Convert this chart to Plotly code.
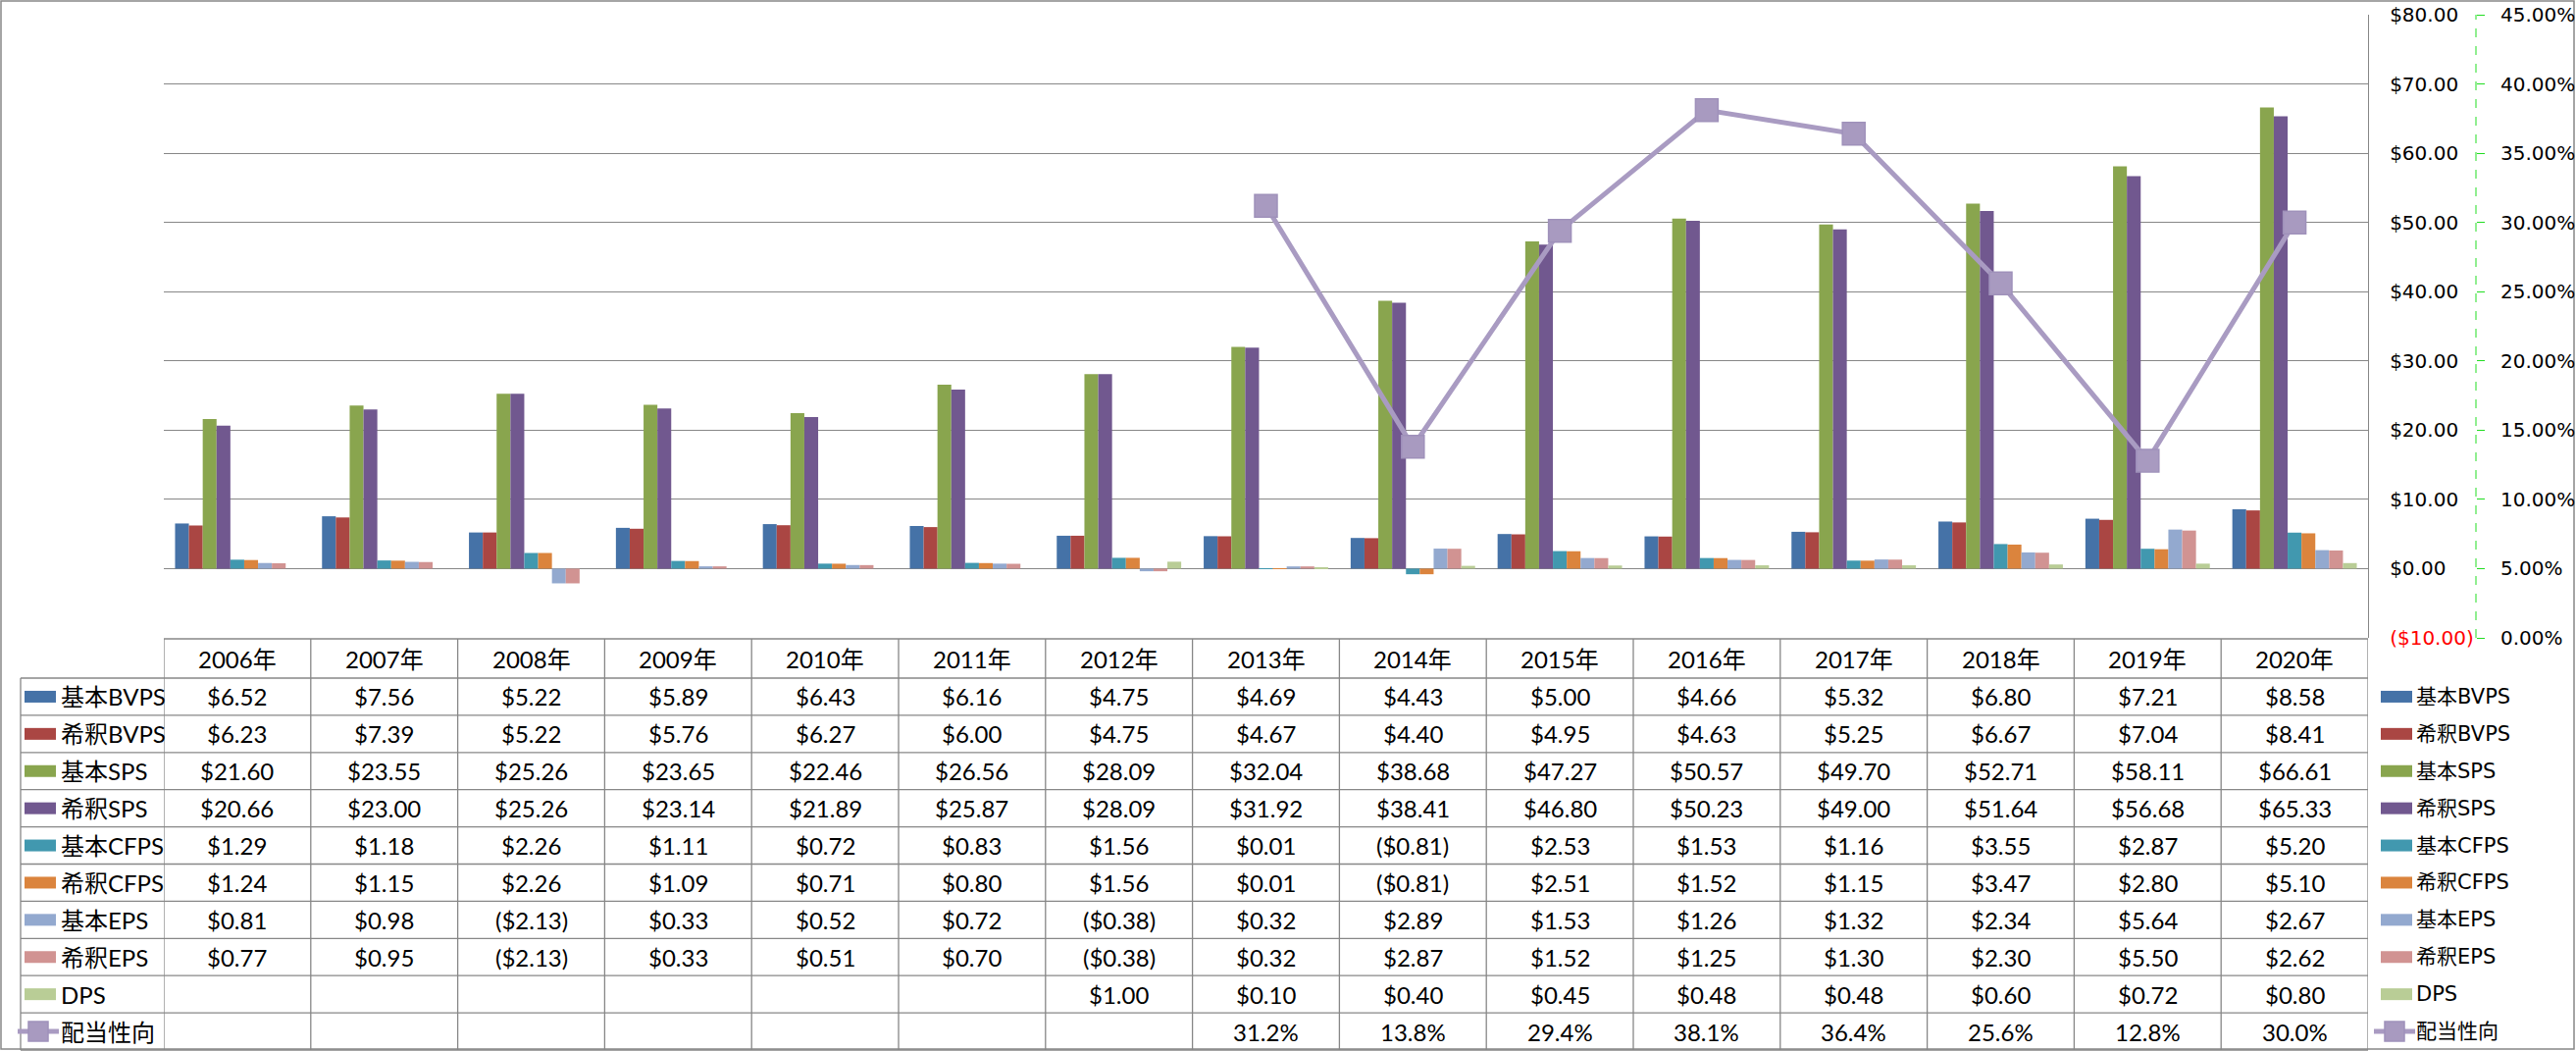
import plotly.graph_objects as go

years = ["2006年", "2007年", "2008年", "2009年", "2010年", "2011年", "2012年", "2013年",
         "2014年", "2015年", "2016年", "2017年", "2018年", "2019年", "2020年"]

basic_bvps = [6.52, 7.56, 5.22, 5.89, 6.43, 6.16, 4.75, 4.69, 4.43, 5.00, 4.66, 5.32, 6.80, 7.21, 8.58]
dil_bvps = [6.23, 7.39, 5.22, 5.76, 6.27, 6.00, 4.75, 4.67, 4.40, 4.95, 4.63, 5.25, 6.67, 7.04, 8.41]
basic_sps = [21.60, 23.55, 25.26, 23.65, 22.46, 26.56, 28.09, 32.04, 38.68, 47.27, 50.57, 49.70, 52.71, 58.11, 66.61]
dil_sps = [20.66, 23.00, 25.26, 23.14, 21.89, 25.87, 28.09, 31.92, 38.41, 46.80, 50.23, 49.00, 51.64, 56.68, 65.33]
basic_cfps = [1.29, 1.18, 2.26, 1.11, 0.72, 0.83, 1.56, 0.01, -0.81, 2.53, 1.53, 1.16, 3.55, 2.87, 5.20]
dil_cfps = [1.24, 1.15, 2.26, 1.09, 0.71, 0.80, 1.56, 0.01, -0.81, 2.51, 1.52, 1.15, 3.47, 2.80, 5.10]
basic_eps = [0.81, 0.98, -2.13, 0.33, 0.52, 0.72, -0.38, 0.32, 2.89, 1.53, 1.26, 1.32, 2.34, 5.64, 2.67]
dil_eps = [0.77, 0.95, -2.13, 0.33, 0.51, 0.70, -0.38, 0.32, 2.87, 1.52, 1.25, 1.30, 2.30, 5.50, 2.62]
dps = [None, None, None, None, None, None, 1.00, 0.10, 0.40, 0.45, 0.48, 0.48, 0.60, 0.72, 0.80]
payout = [None, None, None, None, None, None, None, 0.312, 0.138, 0.294, 0.381, 0.364, 0.256, 0.128, 0.300]

bar_series = [
    ("基本BVPS", basic_bvps, "#4572A7"),
    ("希釈BVPS", dil_bvps, "#AA4643"),
    ("基本SPS", basic_sps, "#89A54E"),
    ("希釈SPS", dil_sps, "#71588F"),
    ("基本CFPS", basic_cfps, "#4198AF"),
    ("希釈CFPS", dil_cfps, "#DB843D"),
    ("基本EPS", basic_eps, "#93A9CF"),
    ("希釈EPS", dil_eps, "#D19392"),
    ("DPS", dps, "#B9CD96"),
]
line_name = "配当性向"
line_color = "#A99BC2"

y_ticks = [-10, 0, 10, 20, 30, 40, 50, 60, 70, 80]

# ---- pixel geometry helpers ----
W, H = 2626, 1071
L, R_EDGE, T, B = 167, 2524, 15, 650  # plot region in pixels
PLOT_RIGHT = 2414
PW, PH = R_EDGE - L, B - T


def px(x):
    return (x - L) / PW


def py(y):
    return (B - y) / PH


def money(v):
    if v is None:
        return ""
    return f"(${-v:.2f})" if v < 0 else f"${v:.2f}"


def pct(v):
    if v is None:
        return ""
    return f"{v * 100:.1f}%"


TABLE_FONT = "Lato, Noto Sans CJK JP, sans-serif"
AXIS_FONT = "DejaVu Sans, Noto Sans CJK JP, sans-serif"
TABLE_SIZE = 24
AXIS_SIZE = 20
LEGEND_SIZE = 21
GRID = "#878787"

fig = go.Figure()
for name, vals, col in bar_series:
    fig.add_trace(go.Bar(x=years, y=vals, name=name, marker=dict(color=col, line=dict(width=0)),
                         yaxis="y", showlegend=False))
fig.add_trace(go.Scatter(x=years, y=payout, name=line_name, yaxis="y2", mode="lines+markers",
                         line=dict(color=line_color, width=5),
                         marker=dict(symbol="square", size=23, color="#A89AC0",
                                     line=dict(color="#9F91BA", width=1.5)),
                         showlegend=False, connectgaps=False))

ticktext = []
for v in y_ticks:
    if v < 0:
        ticktext.append(f"<span style='color:#FF0000'>(${-v:.2f})</span>")
    else:
        ticktext.append(f"${v:.2f}")

shapes = []
annotations = []

# outer chart border
shapes.append(dict(type="rect", xref="paper", yref="paper", x0=px(1), x1=px(2624), y0=py(1), y1=py(1069),
                   line=dict(color="#888888", width=1.5), layer="below"))

# green dashed secondary axis line
shapes.append(dict(type="line", xref="paper", yref="paper", x0=1, x1=1, y0=0, y1=1,
                   line=dict(color="#22DD22", width=1, dash="dash")))

# table geometry
header_top, header_bot = 651, 691
row_h = 37.9
n_rows = 10
table_bottom = header_bot + row_h * n_rows
table_left = 21
line_style = dict(color=GRID, width=1.3)

shapes.append(dict(type="line", xref="paper", yref="paper", x0=px(L), x1=px(PLOT_RIGHT),
                   y0=py(header_top), y1=py(header_top), line=line_style))
for k in range(n_rows + 1):
    yy = header_bot + row_h * k
    shapes.append(dict(type="line", xref="paper", yref="paper", x0=px(table_left), x1=px(PLOT_RIGHT),
                       y0=py(yy), y1=py(yy), line=line_style))
for i in range(len(years) + 1):
    shapes.append(dict(type="line", xref="x", yref="paper", x0=i - 0.5, x1=i - 0.5,
                       y0=py(header_top), y1=py(table_bottom), line=line_style))
shapes.append(dict(type="line", xref="paper", yref="paper", x0=px(table_left), x1=px(table_left),
                   y0=py(header_bot), y1=py(table_bottom), line=line_style))

for i, yr in enumerate(years):
    annotations.append(dict(x=i, y=py((header_top + header_bot) / 2), xref="x", yref="paper",
                            text=yr, showarrow=False,
                            font=dict(family=TABLE_FONT, size=TABLE_SIZE, color="#000000"),
                            xanchor="center", yanchor="middle"))

table_rows = [(n, v, c, "bar") for n, v, c in bar_series] + [(line_name, payout, line_color, "line")]
for k, (name, vals, col, kind) in enumerate(table_rows):
    yc = header_bot + row_h * (k + 0.5)
    fmt = pct if kind == "line" else money
    for i, v in enumerate(vals):
        if v is None:
            continue
        annotations.append(dict(x=i, y=py(yc), xref="x", yref="paper", text=fmt(v), showarrow=False,
                                font=dict(family=TABLE_FONT, size=TABLE_SIZE, color="#000000"),
                                xanchor="center", yanchor="middle"))
    annotations.append(dict(x=px(60), y=py(yc), xref="paper", yref="paper", text=name, showarrow=False,
                            font=dict(family=TABLE_FONT, size=TABLE_SIZE, color="#000000"),
                            xanchor="left", yanchor="middle"))
    annotations.append(dict(x=px(2461), y=py(yc), xref="paper", yref="paper", text=name, showarrow=False,
                            font=dict(family=AXIS_FONT, size=LEGEND_SIZE, color="#000000"),
                            xanchor="left", yanchor="middle"))
    for (x0, x1) in [(25, 57), (2427, 2459)]:
        if kind == "bar":
            shapes.append(dict(type="rect", xref="paper", yref="paper", x0=px(x0), x1=px(x1),
                               y0=py(yc - 6), y1=py(yc + 6), fillcolor=col, line=dict(width=0)))
        else:
            shapes.append(dict(type="line", xref="paper", yref="paper", x0=px(x0 - 7), x1=px(x1 + 3),
                               y0=py(yc), y1=py(yc), line=dict(color=col, width=5)))
            xm = (x0 - 7 + x1 + 3) / 2
            shapes.append(dict(type="rect", xref="paper", yref="paper", x0=px(xm - 10), x1=px(xm + 10),
                               y0=py(yc - 10), y1=py(yc + 10), fillcolor="#A89AC0",
                               line=dict(color="#9F91BA", width=1.5)))

fig.update_layout(
    width=W, height=H,
    margin=dict(l=L, r=W - R_EDGE, t=T, b=H - B, pad=0, autoexpand=False),
    paper_bgcolor="#FFFFFF", plot_bgcolor="#FFFFFF",
    barmode="group", bargap=0.153, bargroupgap=0,
    showlegend=False,
    xaxis=dict(domain=[0, (PLOT_RIGHT - L) / PW], type="category", range=[-0.5, 14.5],
               showticklabels=False, showgrid=False, zeroline=False, showline=False, ticks="",
               automargin=False),
    yaxis=dict(range=[-10, 80], side="right", anchor="x", tickvals=y_ticks, ticktext=ticktext,
               showgrid=True, gridcolor=GRID, gridwidth=1.3, zeroline=False,
               showline=True, linecolor=GRID, linewidth=1.3, ticks="", automargin=False,
               ticklabelstandoff=17,
               tickfont=dict(family=AXIS_FONT, size=AXIS_SIZE, color="#000000")),
    yaxis2=dict(range=[0, 0.45], overlaying="y", side="right", anchor="free", position=1,
                dtick=0.05, tick0=0, tickformat=".2%", showgrid=False, zeroline=False, showline=False,
                ticks="outside", ticklen=8, tickcolor="#22DD22", tickwidth=1, automargin=False,
                ticklabelstandoff=12,
                tickfont=dict(family=AXIS_FONT, size=AXIS_SIZE, color="#000000")),
    shapes=shapes,
    annotations=annotations,
)

fig.write_html("out.html", config={"displayModeBar": False},
               post_script="document.body.style.margin='0px';document.body.style.overflow='hidden';")
